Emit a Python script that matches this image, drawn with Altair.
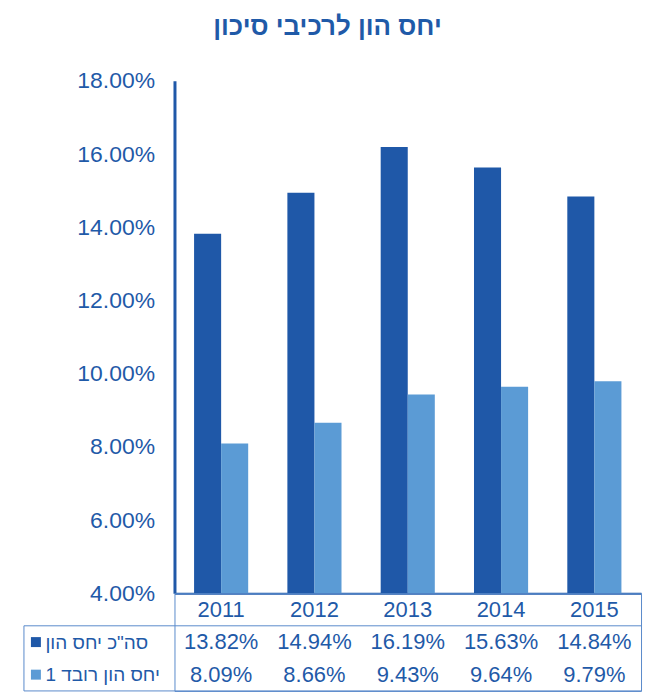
import altair as alt
import pandas as pd

# ---- data ----
years = ["2011", "2012", "2013", "2014", "2015"]
total_ratio = [13.82, 14.94, 16.19, 15.63, 14.84]
tier1_ratio = [8.09, 8.66, 9.43, 9.64, 9.79]
series = ['סה"כ יחס הון', "יחס הון רובד 1"]
y_ticks = [4, 6, 8, 10, 12, 14, 16, 18]
title_text = "יחס הון לרכיבי סיכון"
year_row = " "

# ---- style ----
DARK = "#1F58A8"
LIGHT = "#5B9BD5"
TEXT = "#1F5AA8"
LINE = "#5A8BCB"
FONT = "Liberation Sans"
W = 468
H_BAR = 514
H_TAB = 98

bar_rows = []
for i, yr in enumerate(years):
    bar_rows.append({"year": yr, "series": series[0], "value": total_ratio[i] / 100})
    bar_rows.append({"year": yr, "series": series[1], "value": tier1_ratio[i] / 100})
bar_df = pd.DataFrame(bar_rows)

tab_rows = []
for i, yr in enumerate(years):
    tab_rows.append({"row": year_row, "year": yr, "text": yr})
    tab_rows.append({"row": series[0], "year": yr, "text": f"{total_ratio[i]:.2f}%"})
    tab_rows.append({"row": series[1], "year": yr, "text": f"{tier1_ratio[i]:.2f}%"})
tab_df = pd.DataFrame(tab_rows)
sq_df = pd.DataFrame({"row": series})

color_scale = alt.Scale(domain=series, range=[DARK, LIGHT])

bars = alt.Chart(bar_df).mark_bar().encode(
    x=alt.X("year:N", sort=years,
            scale=alt.Scale(domain=years, paddingInner=0.42, paddingOuter=0.21),
            axis=alt.Axis(labels=False, ticks=False, title=None,
                          domainColor=DARK, domainWidth=2)),
    xOffset=alt.XOffset("series:N", sort=series,
                        scale=alt.Scale(domain=series, paddingInner=0, paddingOuter=0)),
    y=alt.Y("value:Q",
            scale=alt.Scale(domain=[y_ticks[0] / 100, y_ticks[-1] / 100], nice=False, zero=False),
            axis=alt.Axis(values=[t / 100 for t in y_ticks], format=".2%", grid=False,
                          ticks=False, title=None, domainColor=DARK, domainWidth=3,
                          labelFontSize=23, labelColor=TEXT, labelFont=FONT,
                          labelPadding=20)),
    y2=alt.datum(y_ticks[0] / 100),
    color=alt.Color("series:N", scale=color_scale, legend=None),
).properties(width=W, height=H_BAR)

row_scale = alt.Scale(domain=[year_row] + series, paddingInner=0, paddingOuter=0)
year_scale = alt.Scale(domain=years, paddingInner=0, paddingOuter=0)

txt = alt.Chart(tab_df).mark_text(fontSize=22, color=TEXT, font=FONT).encode(
    x=alt.X("year:N", scale=year_scale, axis=None),
    y=alt.Y("row:N", scale=row_scale,
            axis=alt.Axis(title=None, domain=False, ticks=False, labelAlign="left",
                          labelPadding=130, labelFontSize=19, labelColor=TEXT,
                          labelFont=FONT)),
    text="text:N",
)

squares = alt.Chart(sq_df).mark_point(shape="square", filled=True, size=100, opacity=1).encode(
    x=alt.value(-139),
    y=alt.Y("row:N", scale=row_scale),
    color=alt.Color("row:N", scale=color_scale, legend=None),
)

one = pd.DataFrame({"k": [0]})
rule_mid = alt.Chart(one).mark_rule(color=LINE, strokeWidth=1).encode(
    x=alt.value(-151), x2=alt.value(W), y=alt.value(H_TAB / 3))
rule_bot = alt.Chart(one).mark_rule(color=LINE, strokeWidth=1).encode(
    x=alt.value(-151), x2=alt.value(W), y=alt.value(H_TAB))
rule_left = alt.Chart(one).mark_rule(color=LINE, strokeWidth=1).encode(
    x=alt.value(-151), y=alt.value(H_TAB / 3), y2=alt.value(H_TAB))

table = alt.layer(txt, squares, rule_mid, rule_bot, rule_left).properties(
    width=W, height=H_TAB,
    view=alt.ViewBackground(stroke=LINE, strokeWidth=1),
)

chart = alt.vconcat(bars, table, spacing=0, bounds="flush").properties(
    title=alt.TitleParams(text=title_text, fontSize=26, font=FONT, fontWeight="bold",
                          color=TEXT, anchor="middle", offset=30, dx=-5),
    padding={"left": 15, "top": 5, "right": 5, "bottom": 0},
).configure_view(stroke=None).resolve_scale(color="shared")

chart.save("out.html", embed_options={"renderer": "svg", "actions": False})
